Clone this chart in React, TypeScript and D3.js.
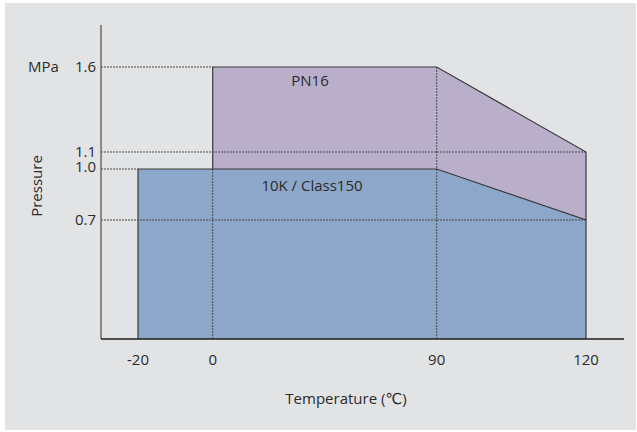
import React from "react";
import * as d3 from "d3";

// ---- data ----
const temperatureTicks = [-20, 0, 90, 120];
const pressureTicks = [0.7, 1.0, 1.1, 1.6];
const pressureTickLabels = ["0.7", "1.0", "1.1", "1.6"];
// guide (dotted) end temperature for each pressure tick
const pressureGuideEnds = [120, -20, 120, 0];
// dotted verticals: temperature and top pressure
const verticalGuideTemps = [0, 90];
const verticalGuideTops = [1.0, 1.6];

// Class 150 / 10K rating envelope
const class150Temps = [-20, -20, 90, 120, 120];
const class150Pressures = [0, 1.0, 1.0, 0.7, 0];
// PN16 rating envelope
const pn16Temps = [0, 0, 90, 120, 120, 90];
const pn16Pressures = [1.0, 1.6, 1.6, 1.1, 0.7, 1.0];

const W = 637;
const H = 432;

export default function App() {
  // piecewise-linear temperature scale (axis positions are not uniform in the original)
  const x = d3
    .scaleLinear()
    .domain([-35, -20, 0, 90, 120, 135])
    .range([101, 138, 212.7, 436.7, 586, 624]);
  const y = d3.scaleLinear().domain([0, 1.847]).range([339, 25]);

  const line = d3
    .line<[number, number]>()
    .x((d) => x(d[0]))
    .y((d) => y(d[1]));

  const class150Pts: [number, number][] = class150Temps.map((t, i) => [t, class150Pressures[i]]);
  const pn16Pts: [number, number][] = pn16Temps.map((t, i) => [t, pn16Pressures[i]]);

  const text = "#2b2b2b";
  const font = "'Open Sans', 'DejaVu Sans', sans-serif";
  const fs = 15;
  const dotted = { stroke: "#4a4a4a", strokeWidth: 1, strokeDasharray: "2,1", fill: "none" };
  const solid = { stroke: "#3a3a3a", strokeWidth: 1.2, fill: "none" };

  // solid outline segments
  const class150Outline: [number, number][] = class150Pts.slice(0, 5);
  const pn16Outline: [number, number][] = pn16Pts.slice(0, 5);

  return (
    <svg
      width={W}
      height={H}
      style={{ position: "absolute", left: 0, top: 0, display: "block" }}
      fontFamily={font}
    >
      <rect x={0} y={0} width={W} height={H} fill="#ffffff" />
      <rect x={5} y={3} width={631} height={427} fill="#e2e3e5" />

      {/* envelopes */}
      <path d={line(class150Pts) + "Z"} fill="#8ca7c9" />
      <path d={line(pn16Pts) + "Z"} fill="#baafcb" />

      {/* dotted guides */}
      {pressureTicks.map((p, i) => (
        <line key={"hg" + i} x1={x(-35)} x2={x(pressureGuideEnds[i])} y1={y(p)} y2={y(p)} {...dotted} />
      ))}
      {verticalGuideTemps.map((t, i) => (
        <line key={"vg" + i} x1={x(t)} x2={x(t)} y1={y(0)} y2={y(verticalGuideTops[i])} {...dotted} />
      ))}

      {/* solid outlines */}
      <path d={line(class150Outline) ?? ""} {...solid} />
      <path d={line(pn16Outline) ?? ""} {...solid} />

      {/* axes */}
      <line x1={x(-35)} x2={x(-35)} y1={y(1.847)} y2={y(0)} stroke="#6b6b6b" strokeWidth={1.5} />
      <line x1={x(-35)} x2={x(135)} y1={y(0)} y2={y(0)} stroke="#1e1e1e" strokeWidth={1.5} />

      {/* y tick labels */}
      {pressureTicks.map((p, i) => (
        <text
          key={"yt" + i}
          x={96}
          y={y(p) + (p === 1.1 ? 0 : p === 1.0 ? -2.5 : 0)}
          dy="0.36em"
          textAnchor="end"
          fontSize={fs}
          fill={text}
        >
          {pressureTickLabels[i]}
        </text>
      ))}
      <text x={28} y={y(1.6)} dy="0.36em" fontSize={fs} fill={text}>
        MPa
      </text>
      <text
        transform={`translate(${37},${186}) rotate(-90)`}
        textAnchor="middle"
        dy="0.36em"
        fontSize={fs}
        fill={text}
      >
        Pressure
      </text>

      {/* x tick labels */}
      {temperatureTicks.map((t) => (
        <text key={"xt" + t} x={x(t)} y={360} dy="0.36em" textAnchor="middle" fontSize={fs} fill={text}>
          {t}
        </text>
      ))}
      <text x={346} y={399} dy="0.36em" textAnchor="middle" fontSize={fs} fill={text}>
        Temperature (℃)
      </text>

      {/* series labels */}
      <text x={310} y={80.5} dy="0.36em" textAnchor="middle" fontSize={fs} fill={text}>
        PN16
      </text>
      <text x={312} y={186} dy="0.36em" textAnchor="middle" fontSize={fs} fill={text}>
        10K / Class150
      </text>
    </svg>
  );
}
